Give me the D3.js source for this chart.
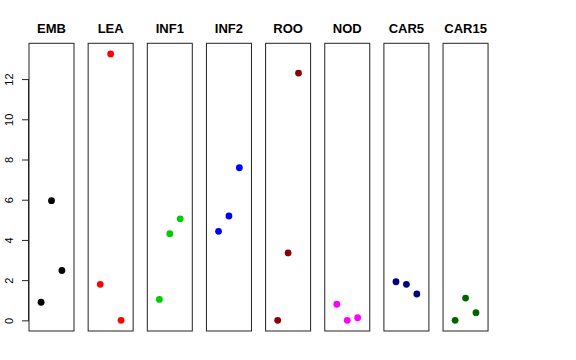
<!DOCTYPE html>
<style>
  body { margin: 0; background: #fff; }
  svg { display: block; font-family: 'Liberation Sans', Arial, sans-serif; }
</style>
<svg width="576" height="360"></svg>
<script src="https://d3js.org/d3.v7.min.js"></script>
<script>
  // data: one group of three values per panel
  var groups = ["EMB", "LEA", "INF1", "INF2", "ROO", "NOD", "CAR5", "CAR15"];
  var colors = ["#000000", "#ff0000", "#00cd00", "#0000ff", "#8b0000", "#ff00ff", "#000080", "#006400"];
  var EMB = [0.9, 5.95, 2.48];
  var LEA = [1.79, 13.25, 0];
  var INF1 = [1.04, 4.31, 5.05];
  var INF2 = [4.43, 5.19, 7.59];
  var ROO = [0, 3.35, 12.3];
  var NOD = [0.8, 0, 0.13];
  var CAR5 = [1.92, 1.79, 1.31];
  var CAR15 = [0, 1.11, 0.38];
  var values = [EMB, LEA, INF1, INF2, ROO, NOD, CAR5, CAR15];
  var yTicks = [0, 2, 4, 6, 8, 10, 12];

  var svg = d3.select("svg"),
      plotLeft = 29, plotTop = 43.3, plotBottom = 331,
      panelW = 45, step = 59.15;

  // R-style 4% padding on the common range
  var ymax = d3.max(values, function(v) { return d3.max(v); });
  var pad = ymax * 0.04;
  var y = d3.scaleLinear().domain([-pad, ymax + pad]).range([plotBottom, plotTop]);
  var x = d3.scaleLinear().domain([-0.16, 4.16]).range([0, panelW]);

  var panel = svg.selectAll("g.panel")
    .data(groups)
    .enter().append("g")
    .attr("class", "panel")
    .attr("transform", function(d, i) { return "translate(" + (plotLeft + i * step) + ",0)"; });

  panel.append("rect")
    .attr("x", 0)
    .attr("y", plotTop)
    .attr("width", panelW)
    .attr("height", plotBottom - plotTop)
    .attr("fill", "none")
    .attr("stroke", "#222")
    .attr("stroke-width", 1);

  panel.append("text")
    .attr("x", panelW / 2)
    .attr("y", 33)
    .attr("text-anchor", "middle")
    .attr("font-size", 13)
    .attr("font-weight", "bold")
    .text(function(d) { return d; });

  panel.selectAll("circle")
    .data(function(d, i) { return values[i].map(function(v, j) { return {v: v, j: j + 1, c: colors[i]}; }); })
    .enter().append("circle")
    .attr("cx", function(d) { return x(d.j); })
    .attr("cy", function(d) { return y(d.v); })
    .attr("r", 3.4)
    .attr("fill", function(d) { return d.c; });

  // y axis on first panel only
  var axis = svg.append("g")
    .attr("transform", "translate(" + plotLeft + ",0)")
    .call(d3.axisLeft(y).tickValues(yTicks).tickSize(7).tickPadding(0).tickFormat(d3.format("d")));
  axis.select(".domain").attr("d", "M-0.5," + y(0) + "V" + y(12)).attr("stroke", "#222");
  axis.selectAll(".tick line").attr("stroke", "#222");
  axis.selectAll(".tick text")
    .attr("font-size", 11)
    .attr("font-family", "'Liberation Sans', Arial, sans-serif")
    .attr("fill", "#000")
    .attr("transform", "rotate(-90)")
    .attr("x", 0)
    .attr("y", -16)
    .attr("dy", 0)
    .attr("text-anchor", "middle");
</script>
